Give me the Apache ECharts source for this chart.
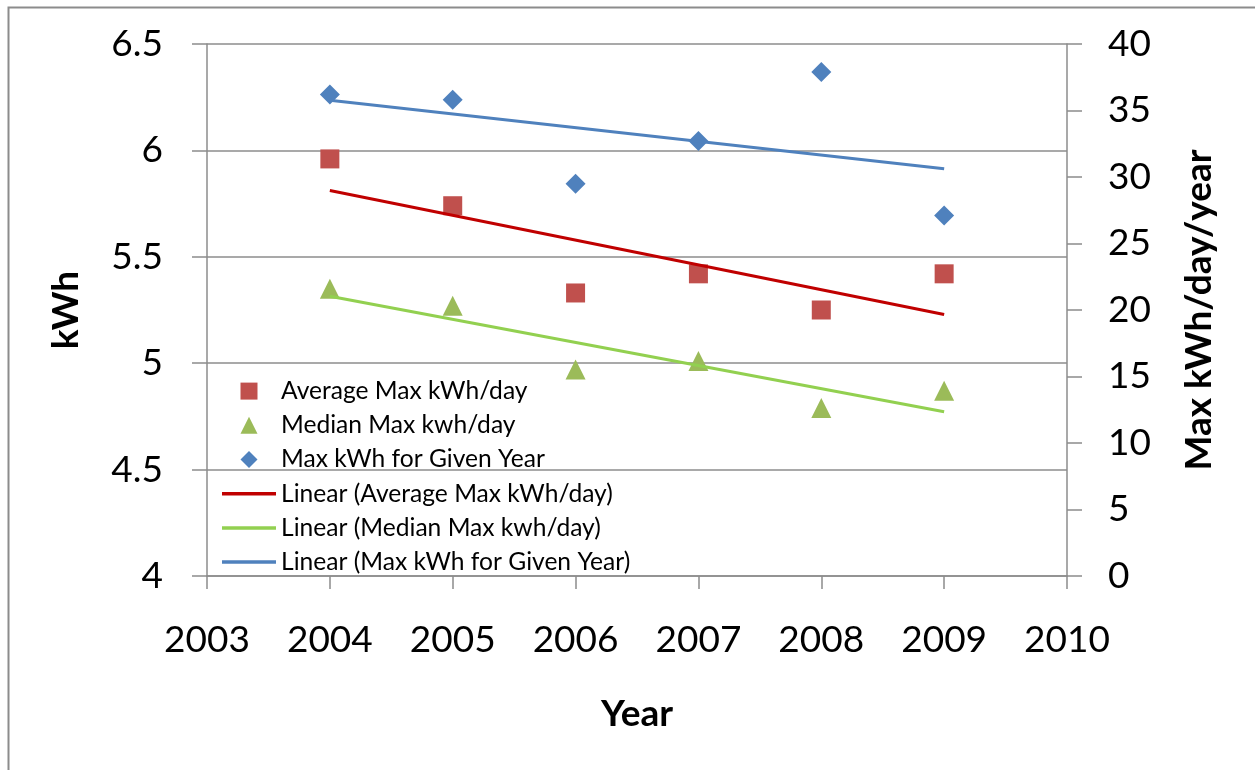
<!DOCTYPE html>
<html>
<head>
<meta charset="utf-8">
<title>kWh by Year</title>
<script src="https://cdn.jsdelivr.net/npm/echarts@6/dist/echarts.min.js"></script>
<style>
  html, body { margin: 0; padding: 0; background: #ffffff; }
  #chart { width: 1255px; height: 770px; }
</style>
</head>
<body>
<div id="chart"></div>
<script>
// Yearly consumption statistics
const years = [2004, 2005, 2006, 2007, 2008, 2009];
const avgMaxPerDay = [5.96, 5.74, 5.33, 5.42, 5.25, 5.42];     // kWh (left axis)
const medianMaxPerDay = [5.35, 5.27, 4.97, 5.01, 4.79, 4.87];  // kWh (left axis)
const maxForYear = [36.2, 35.8, 29.5, 32.7, 37.9, 27.1];       // kWh/day/year (right axis)

const seriesNames = ['Average Max kWh/day', 'Median Max kwh/day', 'Max kWh for Given Year'];
const trendNames = seriesNames.map(n => 'Linear (' + n + ')');

// Axis ranges
const xRange = [2003, 2010, 1];
const leftRange = [4, 6.5, 0.5];
const rightRange = [0, 40, 5];

// Least-squares fit, evaluated at the first and last year
function linearTrend(xs, ys) {
  const n = xs.length;
  const mx = xs.reduce((a, b) => a + b, 0) / n;
  const my = ys.reduce((a, b) => a + b, 0) / n;
  let sxy = 0, sxx = 0;
  for (let i = 0; i < n; i++) {
    sxy += (xs[i] - mx) * (ys[i] - my);
    sxx += (xs[i] - mx) * (xs[i] - mx);
  }
  const slope = sxy / sxx;
  const x0 = xs[0], x1 = xs[n - 1];
  return [[x0, my + slope * (x0 - mx)], [x1, my + slope * (x1 - mx)]];
}

const pairs = ys => years.map((y, i) => [y, ys[i]]);

const FONT = 'Lato, "Open Sans", sans-serif';
const GRAY = '#8c8c8c';

// Legend glyphs (paths keep their aspect ratio inside the legend item box)
const ICON_SQUARE = 'path://M0,0L1,0L1,1L0,1Z';
const ICON_TRIANGLE = 'path://M0.5,0L1,1L0,1Z';
const ICON_DIAMOND = 'path://M0.5,0L1,0.5L0.5,1L0,0.5Z';
const ICON_LINE = 'path://M0,0L54,0L54,3.5L0,3.5Z';

const chart = echarts.init(document.getElementById('chart'), null, { renderer: 'canvas' });

chart.setOption({
  backgroundColor: '#ffffff',
  animation: false,
  textStyle: { fontFamily: FONT, color: '#000' },
  graphic: [{
    type: 'rect',
    left: 6, top: 5,
    shape: { width: 1400, height: 900 },
    style: { fill: 'none', stroke: GRAY, lineWidth: 2 },
    silent: true, z: -10
  }],
  grid: { left: 207, right: 188, top: 44, bottom: 194 },
  legend: {
    orient: 'vertical',
    left: 222,
    top: 374,
    padding: 0,
    itemWidth: 54,
    itemHeight: 17,
    itemGap: 0,
    selectedMode: false,
    textStyle: { fontFamily: FONT, fontSize: 24.6, color: '#000', lineHeight: 34.2 },
    data: [
      { name: seriesNames[0], icon: ICON_SQUARE },
      { name: seriesNames[1], icon: ICON_TRIANGLE },
      { name: seriesNames[2], icon: ICON_DIAMOND },
      { name: trendNames[0], icon: ICON_LINE },
      { name: trendNames[1], icon: ICON_LINE },
      { name: trendNames[2], icon: ICON_LINE }
    ]
  },
  xAxis: {
    type: 'value',
    min: xRange[0], max: xRange[1], interval: xRange[2],
    name: 'Year',
    nameLocation: 'middle',
    nameGap: 120,
    nameTextStyle: { fontFamily: FONT, fontSize: 37, fontWeight: 'bold', color: '#000' },
    axisLine: { show: true, onZero: false, lineStyle: { color: GRAY, width: 1.5 } },
    axisTick: { show: true, length: 13, lineStyle: { color: GRAY, width: 1.5 } },
    axisLabel: { fontFamily: FONT, fontSize: 37, color: '#000', margin: 46,
                 formatter: v => String(v) },
    splitLine: { show: false }
  },
  yAxis: [{
    type: 'value',
    position: 'left',
    min: leftRange[0], max: leftRange[1], interval: leftRange[2],
    name: 'kWh',
    nameLocation: 'middle',
    nameRotate: 90,
    nameGap: 122,
    nameTextStyle: { fontFamily: FONT, fontSize: 37, fontWeight: 'bold', color: '#000' },
    axisLine: { show: true, lineStyle: { color: GRAY, width: 1.5 } },
    axisTick: { show: true, length: 15, lineStyle: { color: GRAY, width: 1.5 } },
    axisLabel: { fontFamily: FONT, fontSize: 37, color: '#000', margin: 44 },
    splitLine: { show: true, lineStyle: { color: GRAY, width: 1.5 } }
  }, {
    type: 'value',
    position: 'right',
    min: rightRange[0], max: rightRange[1], interval: rightRange[2],
    name: 'Max kWh/day/year',
    nameLocation: 'middle',
    nameRotate: 90,
    nameGap: 114,
    nameTextStyle: { fontFamily: FONT, fontSize: 37, fontWeight: 'bold', color: '#000' },
    axisLine: { show: true, lineStyle: { color: GRAY, width: 1.5 } },
    axisTick: { show: true, length: 15, lineStyle: { color: GRAY, width: 1.5 } },
    axisLabel: { fontFamily: FONT, fontSize: 37, color: '#000', margin: 41 },
    splitLine: { show: false }
  }],
  series: [{
    name: seriesNames[0],
    type: 'scatter',
    yAxisIndex: 0,
    symbol: 'rect',
    symbolSize: 19,
    itemStyle: { color: '#C0504D', opacity: 1 },
    data: pairs(avgMaxPerDay),
    z: 3
  }, {
    name: seriesNames[1],
    type: 'scatter',
    yAxisIndex: 0,
    symbol: 'triangle',
    symbolSize: 20,
    itemStyle: { color: '#9BBB59', opacity: 1 },
    data: pairs(medianMaxPerDay),
    z: 3
  }, {
    name: seriesNames[2],
    type: 'scatter',
    yAxisIndex: 1,
    symbol: 'diamond',
    symbolSize: 20,
    itemStyle: { color: '#4F81BD', opacity: 1 },
    data: pairs(maxForYear),
    z: 3
  }, {
    name: trendNames[0],
    type: 'line',
    yAxisIndex: 0,
    symbol: 'none',
    lineStyle: { color: '#C00000', width: 3 },
    itemStyle: { color: '#C00000' },
    data: linearTrend(years, avgMaxPerDay),
    z: 4
  }, {
    name: trendNames[1],
    type: 'line',
    yAxisIndex: 0,
    symbol: 'none',
    lineStyle: { color: '#92D050', width: 3 },
    itemStyle: { color: '#92D050' },
    data: linearTrend(years, medianMaxPerDay),
    z: 4
  }, {
    name: trendNames[2],
    type: 'line',
    yAxisIndex: 1,
    symbol: 'none',
    lineStyle: { color: '#4F81BD', width: 3 },
    itemStyle: { color: '#4F81BD' },
    data: linearTrend(years, maxForYear),
    z: 4
  }]
});
</script>
</body>
</html>
